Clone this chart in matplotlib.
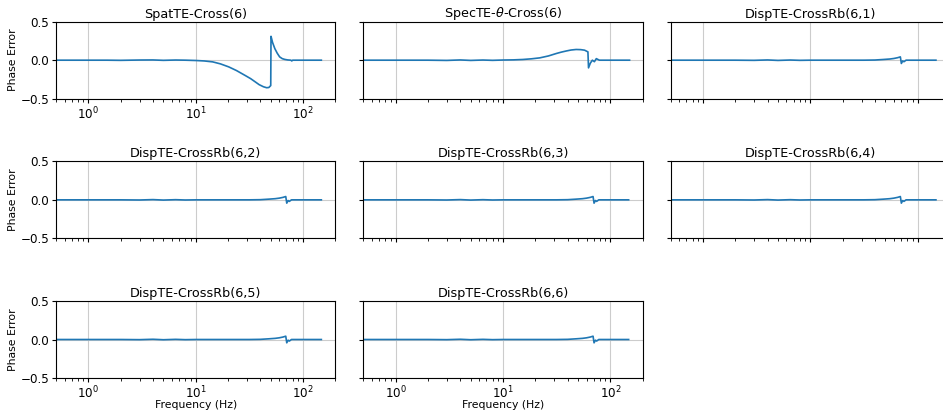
import matplotlib.pyplot as plt

# phase error per method, sampled along frequency (Hz)
spat_freq = [0.5, 0.7, 1.0, 1.5, 2.0, 3.0, 4.0, 5.0, 6.5, 8.0, 10.0, 12.0, 14.4, 17.0,
             20.3, 24.0, 29.0, 32.5, 35.7, 39.0, 42.7, 45.8, 48.0, 50.0, 50.3, 52.0,
             54.6, 57.5, 60.5, 64.0, 67.5, 72.0, 77.0, 78.5, 80.0, 90.0, 110.0, 148.0]
spat_err = [0.0, 0.0, 0.0, 0.0, -0.002, 0.002, 0.003, -0.002, 0.002, 0.0, -0.004, -0.01, -0.022, -0.048,
            -0.087, -0.135, -0.2, -0.24, -0.28, -0.318, -0.345, -0.358, -0.355, -0.33, 0.31, 0.23,
            0.15, 0.09, 0.043, 0.02, 0.01, 0.003, 0.0, -0.01, 0.0, 0.0, 0.0, 0.0]

spec_freq = [0.5, 0.7, 1.0, 1.5, 2.0, 3.0, 4.0, 5.0, 6.5, 8.0, 10.0, 12.5, 15.3, 18.5, 22.0,
             26.5, 31.4, 35.0, 39.0, 43.0, 48.0, 53.0, 57.5, 61.8, 62.6, 65.0, 68.0, 71.0,
             74.0, 79.0, 90.0, 110.0, 151.0]
spec_err = [0.0, 0.0, 0.0, 0.0, 0.0, -0.003, 0.003, -0.003, 0.002, -0.002, 0.002, 0.004, 0.009, 0.018, 0.03,
            0.055, 0.087, 0.105, 0.12, 0.132, 0.139, 0.137, 0.13, 0.108, -0.1, -0.04, 0.0, -0.02,
            0.02, 0.0, 0.0, 0.0, 0.0]

disp_freq = [0.5, 0.7, 1.0, 1.5, 2.0, 3.0, 4.0, 5.0, 6.5, 8.0, 10.0, 15.0, 20.0, 31.6, 40.0,
             48.0, 55.0, 60.0, 65.0, 69.0, 70.5, 72.6, 74.5, 78.0, 90.0, 110.0, 148.0]
disp_err = [0.0, 0.0, 0.0, 0.0, 0.0, -0.002, 0.003, -0.003, 0.002, -0.002, 0.0, 0.0, 0.0, 0.0, 0.002,
            0.009, 0.015, 0.022, 0.032, 0.043, -0.043, -0.009, -0.02, 0.0, 0.0, 0.0, 0.0]

titles = ['SpatTE-Cross(6)', r'SpecTE-$\theta$-Cross(6)',
          'DispTE-CrossRb(6,1)', 'DispTE-CrossRb(6,2)', 'DispTE-CrossRb(6,3)',
          'DispTE-CrossRb(6,4)', 'DispTE-CrossRb(6,5)', 'DispTE-CrossRb(6,6)']
series = [(spat_freq, spat_err), (spec_freq, spec_err)] + [(disp_freq, disp_err)] * 6

fig, axes = plt.subplots(3, 3, figsize=(9.43, 4.15), dpi=100, sharex=True, sharey=True)
fig.subplots_adjust(left=0.0594, right=1.0074, top=0.9477, bottom=0.0892,
                    wspace=0.100, hspace=0.815)

for i, ax in enumerate(axes.flat):
    if i >= len(titles):
        ax.set_visible(False)
        continue
    f, e = series[i]
    ax.plot(f, e, color='tab:blue', lw=1.2)
    ax.set_xscale('log')
    ax.set_xlim(0.5, 200)
    ax.set_ylim(-0.5, 0.5)
    ax.set_yticks([-0.5, 0.0, 0.5])
    ax.grid(True, color='#cccccc', lw=0.8)
    ax.set_title(titles[i], fontsize=9.2, pad=3)
    ax.tick_params(labelsize=8.6, length=3, pad=2)
    r, c = divmod(i, 3)
    if c == 0:
        ax.set_ylabel('Phase Error', fontsize=7.8, labelpad=2)
    ax.tick_params(axis='x', labelbottom=(i in (0, 6, 7)))
    ax.tick_params(axis='y', labelleft=(c == 0))
    if r == 2:
        ax.set_xlabel('Frequency (Hz)', fontsize=7.8, labelpad=-1)

plt.savefig('out.png', dpi=100)
